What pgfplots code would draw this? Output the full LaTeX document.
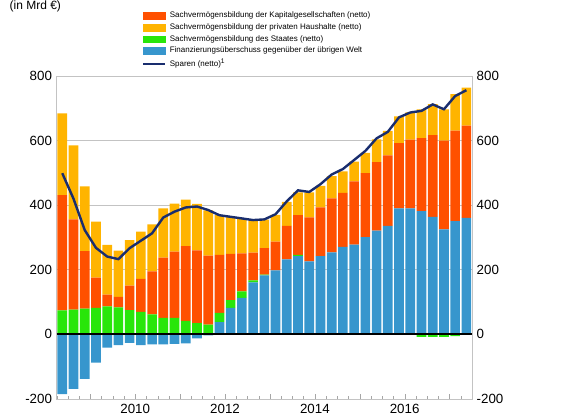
\documentclass[border=0pt]{standalone}
\usepackage{fontspec}
\setmainfont{Liberation Sans}
\usepackage{pgfplots}
\pgfplotsset{compat=1.18}
\usepackage{pgfplotstable}

\definecolor{corp}{RGB}{255,80,0}
\definecolor{hh}{RGB}{255,180,0}
\definecolor{gov}{RGB}{40,230,10}
\definecolor{row}{RGB}{55,150,205}
\definecolor{sav}{RGB}{25,45,110}
\definecolor{frame}{RGB}{195,195,195}

% quarters 2008Q2 (i=0) .. 2017Q2 (i=36), in Mrd EUR
\pgfplotstableread{
i blue green red yellow bneg gneg line
0 0 74 357 253 -185 0 499
1 0 77 279 229 -169 0 420
2 0 80 178 200 -138 0 323
3 0 82 94 173 -87 0 268
4 0 87 36 154 -41 0 241
5 0 84 32 143 -33 0 233
6 0 75 76 141 -26 0 267
7 0 70 102 146 -33 0 290
8 0 62 133 146 -31 0 313
9 0 51 187 152 -31 0 362
10 0 51 205 149 -29 0 380
11 0 42 231 144 -28 0 393
12 0 35 225 144 -12 0 396
13 0 30 214 140 -3 0 385
14 38 29 179 123 0 0 369
15 82 24 143 115 0 0 364
16 113 20 118 106 0 0 359
17 161 6 86 100 0 0 354
18 183 2 82 88 0 0 356
19 198 0 89 83 0 0 372
20 232 0 104 74 0 0 412
21 242 4 123 71 0 0 446
22 226 0 136 78 0 0 441
23 242 0 151 67 0 0 465
24 254 0 167 69 0 0 495
25 271 0 167 67 0 0 512
26 278 0 196 61 0 0 540
27 301 0 198 63 0 0 568
28 321 0 212 71 0 0 607
29 336 0 218 76 0 0 627
30 390 0 202 83 0 0 672
31 390 0 213 84 0 0 687
32 382 0 226 89 0 -8 692
33 364 0 253 96 0 -8 712
34 325 0 275 97 0 -8 697
35 351 0 280 113 0 -5 738
36 361 0 285 118 0 0 756
}\data

\pgfplotsset{
  base/.style={
    scale only axis, width=311.5pt, height=242.25pt,
    xmin=-0.5, xmax=36.5, ymin=-200, ymax=800,
    ytick={-200,0,...,800}, ytick style={draw=none},
    tick label style={font=\fontsize{10}{12}\selectfont},
    /pgf/number format/assume math mode=true,
  },
  barkey/.style={legend image code/.code={\fill[#1] (0pt,-2.6pt) rectangle (16.5pt,2.6pt);}},
}

\begin{document}
\begin{tikzpicture}
\begin{axis}[base,
  ybar stacked, bar width=0.86,
  axis line style={frame},
  yticklabel pos=left,
  ymajorgrids, grid style={frame, line width=0.6pt},
  xtick={2.5,6.5,...,34.5}, xticklabels={,2010,,2012,,2014,,2016,},
  minor xtick={-0.5,0.5,...,36.5},
  xtick pos=bottom, tick align=inside,
  major tick length=3.5pt, minor tick length=2pt,
  xtick style={gray!70}, minor x tick style={gray!70},
  legend style={at={(0.206,1.203)}, anchor=north west, draw=none, fill=none,
    inner sep=0pt, row sep=0.9pt, nodes={inner ysep=1pt, inner xsep=2.5pt},
    font=\fontsize{6}{7}\selectfont},
  legend cell align=left,
]
\addplot[fill=row, draw=none, forget plot] table[x=i, y=blue]{\data};
\addplot[fill=gov, draw=none, forget plot] table[x=i, y=green]{\data};
\addplot[fill=corp, draw=none, forget plot] table[x=i, y=red]{\data};
\addplot[fill=hh, draw=none, forget plot] table[x=i, y=yellow]{\data};
\addlegendimage{barkey=corp}
\addlegendentry{Sachvermögensbildung der Kapitalgesellschaften (netto)}
\addlegendimage{barkey=hh}
\addlegendentry{Sachvermögensbildung der privaten Haushalte (netto)}
\addlegendimage{barkey=gov}
\addlegendentry{Sachvermögensbildung des Staates (netto)}
\addlegendimage{barkey=row}
\addlegendentry{Finanzierungsüberschuss gegenüber der übrigen Welt}
\addlegendimage{legend image code/.code={\draw[sav, line width=1.5pt] (0pt,0pt) -- (16.5pt,0pt);}}
\addlegendentry{Sparen (netto)\textsuperscript{1}}
\end{axis}

\begin{axis}[base,
  ybar, bar width=0.86, bar shift=0pt,
  axis line style={draw=none},
  xtick=\empty,
  yticklabel pos=right,
]
\addplot[fill=row, draw=none] table[x=i, y=bneg]{\data};
\addplot[fill=gov, draw=none] table[x=i, y=gneg]{\data};
\addplot[sharp plot, black, line width=1.4pt] coordinates {(-0.5,0) (36.5,0)};
\addplot[sharp plot, sav, line width=1.8pt, mark=none] table[x=i, y=line]{\data};
\end{axis}

\node[anchor=base west, font=\fontsize{9}{10}\selectfont] at (-38.8pt,292.2pt) {(in Mrd €)};
\pgfresetboundingbox
\path (-42.5pt,-11.25pt) rectangle (388pt,299.25pt);
\end{tikzpicture}
\end{document}
